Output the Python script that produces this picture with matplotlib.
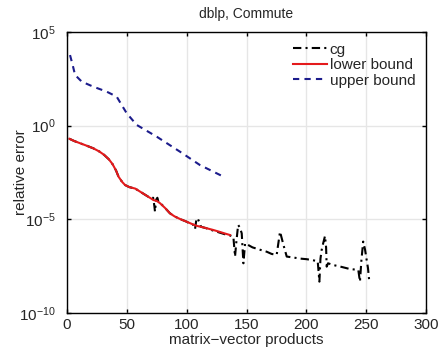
import numpy as np
import matplotlib
matplotlib.use("Agg")
import matplotlib.pyplot as plt

plt.rcParams['font.family'] = ['Liberation Sans', 'DejaVu Sans']
plt.rcParams['mathtext.fontset'] = 'custom'
plt.rcParams['mathtext.rm'] = 'Liberation Sans'
plt.rcParams['mathtext.it'] = 'Liberation Sans:italic'
plt.rcParams['mathtext.bf'] = 'Liberation Sans:bold'

TXT = '#262626'

# Data (log10 of relative error)
cg_x = [2, 6, 11, 16, 22, 27, 31, 35, 38, 41, 43, 46, 48.5, 52, 57, 61, 66, 70, 72, 73, 73.5, 74.5, 75.5, 76.5, 78, 82, 86, 90, 95, 100,
        104, 106, 107, 108, 108.5, 109.5, 110.5, 112, 116, 122, 128, 132, 136, 139, 140.4, 141.5, 143, 144.5, 146, 147.4, 148.8,
        155, 161, 166.8, 171, 175.2, 178, 181, 183.6, 190, 195, 200.2, 205, 209.5, 210.9, 211.8, 212.8, 214, 215.6, 216.5, 217,
        218.1, 223, 228, 233.6, 236, 240, 243.4, 244.8, 246, 247.5, 249, 250.4, 251.5, 252.6]
cg_logy = [-0.70, -0.82, -0.94, -1.06, -1.21, -1.38, -1.56, -1.80, -2.05, -2.40, -2.72, -3.00, -3.17, -3.28, -3.36, -3.52, -3.72, -3.88, -3.85, -4.30, -4.59, -3.95, -3.85, -4.10, -4.14, -4.40, -4.68, -4.85, -5.00, -5.13,
           -5.28, -5.30, -5.52, -5.05, -4.94, -5.00, -5.15, -5.40, -5.47, -5.60, -5.72, -5.80, -5.86, -5.93, -6.99, -6.20, -5.30, -5.45, -5.75, -7.35, -6.28,
           -6.50, -6.62, -6.73, -6.85, -6.90, -5.66, -6.40, -6.99, -7.05, -7.10, -7.13, -7.18, -7.24, -8.33, -7.10, -6.64, -6.30, -5.89, -6.50, -7.53,
           -7.35, -7.45, -7.52, -7.61, -7.65, -7.68, -7.70, -8.33, -7.20, -6.19, -6.60, -7.17, -7.60, -8.33]

lower_x = [2, 6, 11, 16, 22, 27, 31, 35, 38, 41, 43, 46, 48.5, 52, 57, 61, 66, 70, 72.1, 75, 77.7, 82, 86, 90, 95, 100, 104, 108.4, 115, 122.2, 128, 132, 136.2]
lower_logy = [-0.70, -0.82, -0.94, -1.06, -1.21, -1.38, -1.56, -1.80, -2.05, -2.40, -2.72, -3.00, -3.17, -3.28, -3.36, -3.52, -3.72, -3.88, -3.97, -4.02, -4.14, -4.40, -4.68, -4.85, -5.00, -5.13, -5.24, -5.35, -5.45, -5.57, -5.68, -5.76, -5.84]

upper_x = [2.5, 4.7, 6.7, 12.3, 22, 33, 41.5, 45.7, 49.9, 58.2, 75, 94.4, 111, 130.6]
upper_logy = [3.77, 3.24, 2.71, 2.35, 2.08, 1.82, 1.55, 1.10, 0.66, 0.04, -0.59, -1.39, -2.10, -2.72]

xticks = [0, 50, 100, 150, 200, 250, 300]
yticks = [1e-10, 1e-5, 1e0, 1e5]
ytick_labels = [r'$10^{-10}$', r'$10^{-5}$', r'$10^{0}$', r'$10^{5}$']

fig = plt.figure(figsize=(4.41, 3.56), dpi=100)
ax = fig.add_axes([0.152, 0.121, 0.814, 0.789])

ax.semilogy(cg_x, 10.0 ** np.array(cg_logy), color='black', linestyle=(0, (4, 2, 1, 2)), linewidth=1.5, label='cg')
ax.semilogy(lower_x, 10.0 ** np.array(lower_logy), color='#e41a1c', linestyle='-', linewidth=1.5, label='lower bound')
ax.semilogy(upper_x, 10.0 ** np.array(upper_logy), color='#1c1c8c', linestyle=(0, (3, 2.5)), linewidth=1.5, label='upper bound')

ax.set_xlim(0, 300)
ax.set_ylim(1e-10, 1e5)
ax.set_xticks(xticks)
ax.set_yticks(yticks)
ax.set_yticklabels(ytick_labels)
ax.yaxis.set_minor_locator(matplotlib.ticker.NullLocator())
ax.grid(True, color='#e6e6e6', linewidth=1.0)
ax.set_axisbelow(True)
ax.tick_params(direction='in', top=True, right=True, labelsize=11, length=3, width=1,
               labelcolor=TXT)
ax.tick_params(axis='y', pad=8)
ax.tick_params(axis='x', pad=4)
for s in ax.spines.values():
    s.set_linewidth(1.0)

ax.set_xlabel('matrix\u2212vector products', fontsize=11, labelpad=0.5, color=TXT)
ax.set_ylabel('relative error', fontsize=11, color=TXT)
ax.yaxis.set_label_coords(-0.11, 0.5)
ax.set_title('dblp, Commute', fontsize=10, pad=10, color=TXT)

leg = ax.legend(loc='upper right', frameon=False, fontsize=11, handlelength=2.2,
                handletextpad=0.2, labelspacing=0.1, borderaxespad=0.3)
for t in leg.get_texts():
    t.set_color(TXT)

fig.savefig('out.png', dpi=100)
